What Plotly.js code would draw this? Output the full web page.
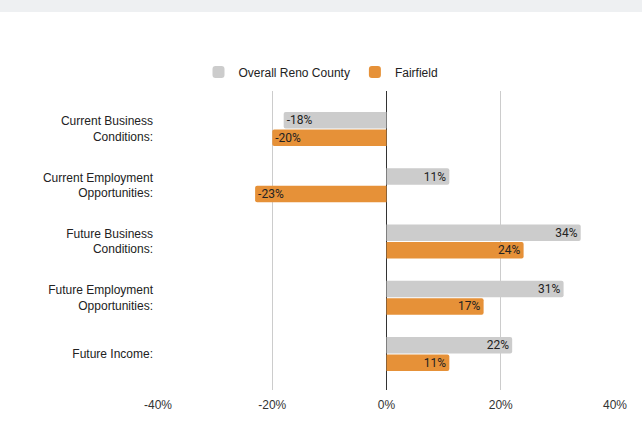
<!DOCTYPE html>
<html>
<head>
<meta charset="utf-8">
<script src="https://cdn.plot.ly/plotly-3.0.1.min.js"></script>
<style>
html,body{margin:0;padding:0;background:#fff;}
#chart{width:642px;height:447px;}
</style>
</head>
<body>
<div id="chart"></div>
<script>
const categories = [
  "Current Business<br>Conditions:",
  "Current Employment<br>Opportunities:",
  "Future Business<br>Conditions:",
  "Future Employment<br>Opportunities:",
  "Future Income:"
];
const seriesNames = ["Overall Reno County", "Fairfield"];
const renoCounty = [-18, 11, 34, 31, 22];
const fairfield = [-20, -23, 24, 17, 11];
const xTickVals = [-40, -20, 0, 20, 40];

const W = 642, H = 447;
const m = {l: 158, r: 27, t: 91, b: 57};
const pw = W - m.l - m.r, ph = H - m.t - m.b;
const FONT = 'Liberation Sans, Arial, sans-serif';

function barTrace(name, vals, color) {
  return {
    type: 'bar', orientation: 'h', name: name,
    y: categories, x: vals,
    marker: {color: color},
    text: vals.map(v => v + '%'),
    textposition: 'inside',
    insidetextanchor: 'end',
    textangle: 0,
    insidetextfont: {family: 'Roboto, sans-serif', size: 12, color: '#222'},
    hoverinfo: 'skip'
  };
}

const data = [
  barTrace(seriesNames[0], renoCounty, '#cccccc'),
  barTrace(seriesNames[1], fairfield, '#e69138')
];

const layout = {
  width: W, height: H,
  margin: m,
  paper_bgcolor: '#ffffff', plot_bgcolor: '#ffffff',
  font: {family: FONT, size: 12, color: '#222'},
  barmode: 'group',
  bargap: 0.38,
  bargroupgap: 0.06,
  barcornerradius: 2,
  uniformtext: {minsize: 12, mode: 'show'},
  showlegend: true,
  legend: {
    orientation: 'h', xref: 'container', x: 0.5, xanchor: 'center',
    yref: 'container', y: 1 - 72 / H, yanchor: 'middle',
    font: {family: FONT, size: 12, color: '#222'}, traceorder: 'normal',
    itemclick: false, itemwidth: 30
  },
  xaxis: {
    range: [-40, 40], tickvals: xTickVals, ticktext: xTickVals.map(v => v + '%'),
    showgrid: true, gridcolor: '#cccccc', gridwidth: 1,
    zeroline: true, zerolinecolor: '#333333', zerolinewidth: 1,
    showline: false, ticks: '', fixedrange: true,
    ticklabelstandoff: 6,
    tickfont: {family: FONT, size: 12, color: '#333'}
  },
  yaxis: {
    type: 'category', autorange: false,
    range: [4 + (ph - (354 - m.t)) / 56.25, -(129 - m.t) / 56.25],
    showgrid: false, zeroline: false, showline: false, ticks: '',
    ticklabelstandoff: 4, fixedrange: true,
    tickfont: {family: FONT, size: 12, color: '#222'}
  },
  shapes: [{
    type: 'rect', xref: 'paper', yref: 'paper', layer: 'above',
    x0: -m.l / pw, x1: 1 + m.r / pw,
    y0: 1 + (m.t - 12) / ph, y1: 1 + m.t / ph,
    fillcolor: '#eef0f2', line: {width: 0}
  }]
};

Plotly.newPlot('chart', data, layout, {displayModeBar: false, staticPlot: true});
</script>
</body>
</html>
